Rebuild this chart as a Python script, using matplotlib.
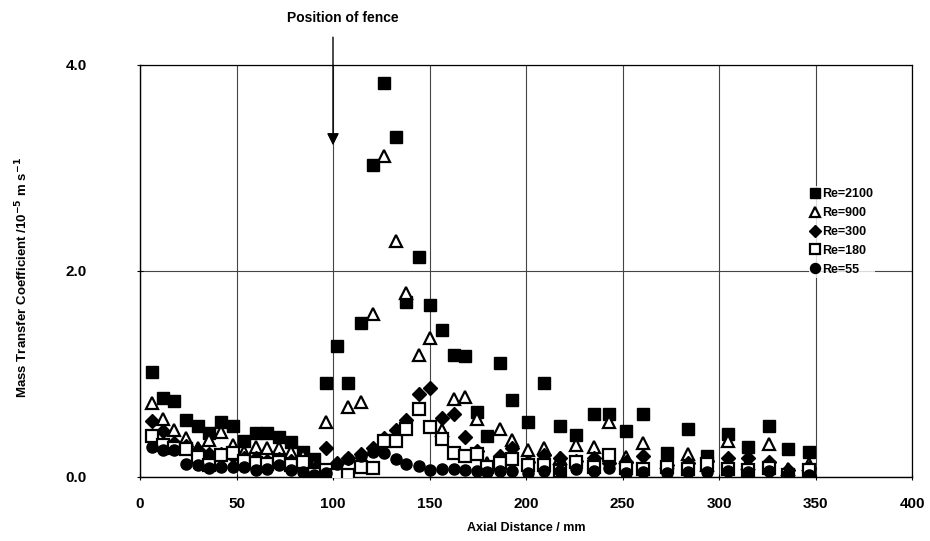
import matplotlib
matplotlib.use("Agg")
import matplotlib.pyplot as plt

plt.rcParams['font.family'] = ['Liberation Sans', 'DejaVu Sans']
plt.rcParams['font.weight'] = 'bold'

# Axial sampling positions (mm)
axial_mm = [6, 12, 17.5, 24, 30, 36, 42, 48, 54, 60, 66, 72, 78, 84.5, 90,
            96.5, 102, 108, 114.5, 120.5, 126.5, 132.5, 138, 144.5, 150,
            156.5, 162.5, 168.5, 174.5, 180, 186.5, 192.5, 201, 209.5, 217.5,
            226, 235, 243, 252, 260.5, 273, 284, 294, 304.5, 315, 326, 336,
            346.5]

# Mass transfer coefficient (1e-5 m/s) for each Reynolds number
re_2100 = [1.02, 0.77, 0.74, 0.55, 0.50, 0.43, 0.53, 0.50, 0.35, 0.43, 0.43,
           0.39, 0.34, 0.24, 0.17, 0.91, 1.27, 0.91, 1.50, 3.03, 3.83, 3.30,
           1.70, 2.14, 1.67, 1.43, 1.18, 1.17, 0.63, 0.40, 1.11, 0.75, 0.53,
           0.91, 0.50, 0.41, 0.61, 0.61, 0.45, 0.61, 0.23, 0.47, 0.20, 0.42,
           0.29, 0.50, 0.27, 0.24]
re_900 = [0.72, 0.56, 0.46, 0.38, 0.28, 0.36, 0.44, 0.31, 0.24, 0.29, 0.28,
          0.28, 0.24, 0.20, 0.12, 0.53, 0.12, 0.68, 0.73, 1.58, 3.12, 2.29,
          1.79, 1.18, 1.35, 0.46, 0.76, 0.78, 0.56, 0.14, 0.47, 0.36, 0.26,
          0.28, 0.18, 0.31, 0.29, 0.53, 0.19, 0.33, 0.15, 0.22, 0.12, 0.35,
          0.14, 0.32, 0.08, 0.13]
re_300 = [0.54, 0.45, 0.33, 0.30, 0.26, 0.22, 0.22, 0.20, 0.18, 0.18, 0.16,
          0.17, 0.16, 0.12, 0.08, 0.28, 0.14, 0.18, 0.22, 0.28, 0.38, 0.46,
          0.55, 0.81, 0.86, 0.57, 0.61, 0.39, 0.25, 0.07, 0.20, 0.28, 0.15,
          0.21, 0.18, 0.16, 0.18, 0.14, 0.15, 0.20, 0.12, 0.14, 0.16, 0.18,
          0.18, 0.15, 0.07, 0.09]
re_180 = [0.40, 0.31, 0.28, 0.27, 0.19, 0.12, 0.21, 0.23, 0.16, 0.14, 0.13,
          0.15, 0.12, 0.15, 0.03, 0.07, 0.02, 0.02, 0.10, 0.09, 0.35, 0.35,
          0.47, 0.66, 0.49, 0.37, 0.23, 0.20, 0.22, 0.10, 0.14, 0.17, 0.12,
          0.12, 0.06, 0.15, 0.10, 0.21, 0.09, 0.08, 0.10, 0.08, 0.13, 0.08,
          0.07, 0.09, 0.02, 0.07]
re_55 = [0.29, 0.26, 0.26, 0.13, 0.12, 0.09, 0.10, 0.10, 0.10, 0.07, 0.08,
         0.12, 0.07, 0.05, 0.02, 0.04, 0.13, 0.17, 0.20, 0.24, 0.23, 0.17,
         0.13, 0.11, 0.07, 0.08, 0.08, 0.07, 0.06, 0.05, 0.06, 0.06, 0.04,
         0.06, 0.06, 0.08, 0.06, 0.09, 0.04, 0.05, 0.04, 0.05, 0.05, 0.06,
         0.05, 0.06, 0.03, 0.02]

series_labels = ['Re=2100', 'Re=900', 'Re=300', 'Re=180', 'Re=55']
x_ticks = [0, 50, 100, 150, 200, 250, 300, 350, 400]
y_ticks = [0.0, 2.0, 4.0]
fence_position = 100

fig = plt.figure(figsize=(9.30, 5.41), dpi=100)
ax = fig.add_axes([140 / 930, 64 / 541, 772 / 930, 412 / 541])

ms = 8
ax.plot(axial_mm, re_2100, ls='none', marker='s', ms=ms, mfc='black',
        mec='black', label=series_labels[0], zorder=3)
ax.plot(axial_mm, re_900, ls='none', marker='^', ms=ms, mfc='white',
        mec='black', mew=1.6, label=series_labels[1], zorder=4)
ax.plot(axial_mm, re_300, ls='none', marker='D', ms=ms - 1, mfc='black',
        mec='black', label=series_labels[2], zorder=5)
ax.plot(axial_mm, re_180, ls='none', marker='s', ms=ms, mfc='white',
        mec='black', mew=1.6, label=series_labels[3], zorder=6)
ax.plot(axial_mm, re_55, ls='none', marker='o', ms=ms, mfc='black',
        mec='black', label=series_labels[4], zorder=7)

ax.set_xlim(0, 400)
ax.set_ylim(0, 4.0)
ax.set_xticks(x_ticks)
ax.set_yticks(y_ticks)
ax.set_xticklabels([str(v) for v in x_ticks])
ax.set_yticklabels([f'{v:.1f}' for v in y_ticks])
ax.tick_params(axis='x', direction='inout', length=5, width=0.8, pad=12,
               labelsize=11)
ax.tick_params(axis='y', direction='inout', length=5, width=0.8, pad=36,
               labelsize=11)
for lab in ax.get_xticklabels() + ax.get_yticklabels():
    lab.set_fontweight('bold')

ax.grid(True, color='#444444', lw=0.8)
ax.set_axisbelow(True)
for side in ['top', 'right']:
    ax.spines[side].set_linewidth(0.9)
for side in ['left', 'bottom']:
    ax.spines[side].set_linewidth(1.0)

ax.set_xlabel('Axial Distance / mm', fontsize=9, fontweight='bold',
              labelpad=8)
fig.text(22 / 930, 1 - 277 / 541,
         r'Mass Transfer Coefficient /10$^{\mathbf{-5}}$ m s$^{\mathbf{-1}}$',
         rotation=90, ha='center', va='center', fontsize=9.5,
         fontweight='bold')

# Fence marker above the plot
ax.annotate('', xy=(fence_position, 3.22), xytext=(fence_position, 4.27),
            arrowprops=dict(arrowstyle='-|>', color='black', lw=1.0,
                            mutation_scale=18, shrinkA=0, shrinkB=0),
            annotation_clip=False, zorder=8)
fig.text(343 / 930, 1 - 18 / 541, 'Position of fence', ha='center',
         va='center', fontsize=10, fontweight='bold')

leg = ax.legend(loc='upper left', bbox_to_anchor=(810 / 930, 1 - 187 / 541),
                bbox_transform=fig.transFigure, frameon=True, fontsize=9,
                handlelength=0.6, handletextpad=0.25, labelspacing=0.55,
                borderpad=0.1, borderaxespad=0, markerscale=0.9)
leg.get_frame().set_facecolor('white')
leg.get_frame().set_edgecolor('none')
leg.get_frame().set_boxstyle('square', pad=0.1)
for t in leg.get_texts():
    t.set_fontweight('bold')

fig.savefig('out.png', dpi=100)
